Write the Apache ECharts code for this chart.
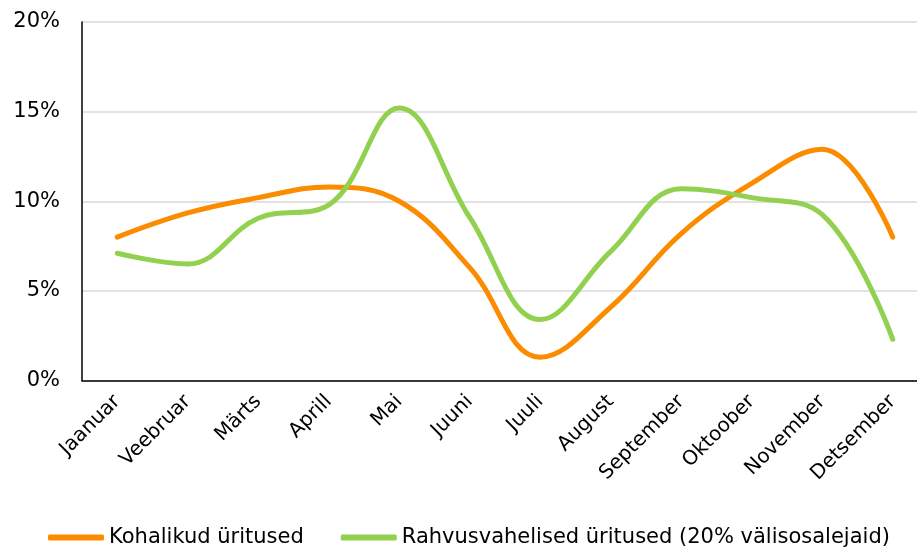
<!DOCTYPE html>
<html>
<head>
<meta charset="utf-8">
<script src="https://cdn.jsdelivr.net/npm/echarts@6/dist/echarts.min.js"></script>
<style>
  html, body { margin: 0; padding: 0; background: #fff; }
  #chart { width: 917px; height: 549px; }
</style>
</head>
<body>
<div id="chart"></div>
<script>
const months = ['Jaanuar', 'Veebruar', 'Märts', 'Aprill', 'Mai', 'Juuni', 'Juuli', 'August', 'September', 'Oktoober', 'November', 'Detsember'];
const kohalikud = [8.0, 9.35, 10.2, 10.8, 10.0, 6.3, 1.3, 4.1, 8.2, 11.0, 12.9, 8.0];
const rahvusvahelised = [7.1, 6.5, 9.05, 9.8, 15.2, 9.1, 3.4, 7.2, 10.7, 10.2, 9.25, 2.3];
const yTicks = [0, 5, 10, 15, 20];

const chart = echarts.init(document.getElementById('chart'));
const font = 'Verdana, "DejaVu Sans", sans-serif';

chart.setOption({
  animation: false,
  color: ['#fb8c00', '#92d050'],
  grid: {
    left: 82,
    top: 22,
    width: 846,
    height: 358.5,
    outerBoundsMode: 'none'
  },
  legend: {
    left: 48,
    top: 527,
    padding: 0,
    itemWidth: 56,
    itemHeight: 6,
    itemGap: 37,
    icon: 'roundRect',
    textStyle: { fontFamily: font, fontSize: 21, color: '#000' },
    data: ['Kohalikud üritused', 'Rahvusvahelised üritused (20% välisosalejaid)']
  },
  xAxis: {
    type: 'category',
    data: months,
    boundaryGap: true,
    axisLine: { lineStyle: { color: '#000', width: 1.5 } },
    axisTick: { show: false },
    axisLabel: {
      rotate: 45,
      interval: 0,
      margin: 18,
      fontFamily: font,
      fontSize: 20,
      color: '#000'
    }
  },
  yAxis: {
    type: 'value',
    min: yTicks[0],
    max: yTicks[yTicks.length - 1],
    interval: 5,
    axisLine: { show: true, lineStyle: { color: '#000', width: 1.5 } },
    axisTick: { show: false },
    splitLine: { lineStyle: { color: '#d9d9d9', width: 1.5 } },
    axisLabel: {
      margin: 22,
      fontFamily: font,
      fontSize: 21,
      color: '#000',
      formatter: v => v + '%'
    }
  },
  series: [
    {
      name: 'Kohalikud üritused',
      type: 'line',
      data: kohalikud,
      smooth: 0.4,
      symbol: 'none',
      lineStyle: { width: 5, cap: 'round' }
    },
    {
      name: 'Rahvusvahelised üritused (20% välisosalejaid)',
      type: 'line',
      data: rahvusvahelised,
      smooth: 0.4,
      symbol: 'none',
      lineStyle: { width: 5, cap: 'round' }
    }
  ]
});
</script>
</body>
</html>
